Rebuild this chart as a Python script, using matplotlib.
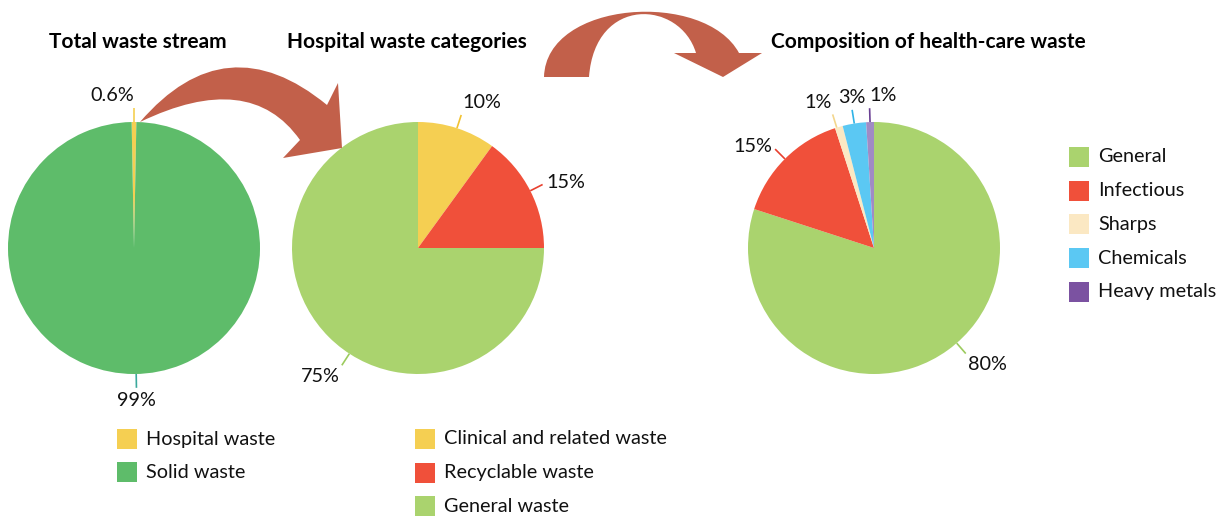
import numpy as np
import matplotlib.pyplot as plt
from matplotlib.path import Path
from matplotlib.patches import PathPatch, Rectangle

plt.rcParams['font.family'] = ['Lato', 'DejaVu Sans']

W, H = 1225, 518  # figure size in pixels, axes uses pixel coords (y up)

# ---- data ----
total_labels = ['Hospital waste', 'Solid waste']
total_values = [0.6, 99.4]
total_text = ['0.6%', '99%']
total_colors = ['#F5CF52', '#5EBC6A']

hosp_labels = ['Clinical and related waste', 'Recyclable waste', 'General waste']
hosp_values = [10, 15, 75]
hosp_text = ['10%', '15%', '75%']
hosp_colors = ['#F5CF52', '#F0503A', '#AAD36E']

comp_labels = ['General', 'Infectious', 'Sharps', 'Chemicals', 'Heavy metals']
comp_values = [80, 15, 1, 3, 1]
comp_text = ['80%', '15%', '1%', '3%', '1%']
comp_colors = ['#AAD36E', '#F0503A', '#FBE8C3', '#5BC8F3', '#A08BC4']
comp_legend_colors = ['#AAD36E', '#F0503A', '#FBE8C3', '#5BC8F3', '#7B52A1']

ARROW = '#C2604A'
R = 126
FS = 14.3      # labels / legend text
FS_T = 15      # titles

fig = plt.figure(figsize=(W / 100, H / 100), dpi=100)
ax = fig.add_axes([0, 0, 1, 1])


def y(py):
    return H - py


def mid_angles(values, start):
    tot = float(sum(values))
    cum = np.cumsum(values) - np.array(values) / 2.0
    return start - 360.0 * cum / tot


def draw_pie(cx, cy, values, colors, start, texts, lead_colors, nudge, align):
    ax.pie(values, colors=colors, startangle=start, counterclock=False,
           center=(cx, y(cy)), radius=R, wedgeprops=dict(linewidth=0))
    for t, a, dn, c, (ha, va) in zip(texts, mid_angles(values, start), nudge, lead_colors, align):
        rad = np.deg2rad(a + dn)
        ux, uy = np.cos(rad), np.sin(rad)
        ax.plot([cx + R * ux, cx + R * 1.11 * ux], [y(cy) + R * uy, y(cy) + R * 1.11 * uy],
                color=c, lw=1.2, solid_capstyle='butt')
        ax.text(cx + R * 1.14 * ux, y(cy) + R * 1.14 * uy, t, ha=ha, va=va,
                fontsize=FS, color='#111111')


# pie 1: total waste stream
draw_pie(134, 248, total_values, total_colors, 90 + 0.6 * 3.6 / 2, total_text,
         ['#F5CF52', '#3BA99C'], [0, 1], [('right', 'bottom'), ('center', 'top')])
# pie 2: hospital waste categories
draw_pie(418, 248, hosp_values, hosp_colors, 90, hosp_text,
         ['#F2C232', '#E8402F', '#9CCB5E'], [0, 0, 12],
         [('left', 'bottom'), ('left', 'center'), ('right', 'top')])
# pie 3: composition of health-care waste
draw_pie(874, 248, comp_values, comp_colors, 90, comp_text,
         ['#9CCB5E', '#E8402F', '#F3D68C', '#2FB3E6', '#6A3F93'], [5, 0, 1, 0, 0],
         [('left', 'top'), ('right', 'center'), ('right', 'bottom'),
          ('center', 'bottom'), ('left', 'bottom')])

# titles
ax.text(138, y(42), 'Total waste stream', ha='center', va='center', fontsize=FS_T, fontweight='bold')
ax.text(407, y(42), 'Hospital waste categories', ha='center', va='center', fontsize=FS_T, fontweight='bold')
ax.text(928, y(42), 'Composition of health-care waste', ha='center', va='center', fontsize=FS_T, fontweight='bold')

# curved arrows
P = Path
arrow1 = [(P.MOVETO, (140, 122)), (P.CURVE3, (226, 22)), (P.CURVE3, (327, 105)),
          (P.LINETO, (338, 83)), (P.LINETO, (342, 148)), (P.LINETO, (283, 158)),
          (P.LINETO, (300, 140)), (P.CURVE3, (250, 69)), (P.CURVE3, (140, 122)),
          (P.CLOSEPOLY, (140, 122))]
arrow2 = [(P.MOVETO, (544, 77)), (P.CURVE4, (546, 0)), (P.CURVE4, (705, -10)), (P.CURVE4, (739, 53)),
          (P.LINETO, (762, 53)), (P.LINETO, (723, 77)), (P.LINETO, (674, 53)), (P.LINETO, (696, 53)),
          (P.CURVE4, (680, 0)), (P.CURVE4, (595, -5)), (P.CURVE4, (589, 77)),
          (P.CLOSEPOLY, (544, 77))]
for arr in (arrow1, arrow2):
    codes = [c for c, _ in arr]
    verts = [(px, y(py)) for _, (px, py) in arr]
    ax.add_patch(PathPatch(Path(verts, codes), facecolor=ARROW, edgecolor='none', zorder=3))


# legends
def draw_legend(x0, y0, step, labels, colors):
    for i, (lab, col) in enumerate(zip(labels, colors)):
        cy = y0 + i * step
        ax.add_patch(Rectangle((x0, y(cy + 10)), 20, 20, facecolor=col, edgecolor='none'))
        ax.text(x0 + 29, y(cy), lab, ha='left', va='center', fontsize=FS, color='#111111')


draw_legend(117, 439, 33, total_labels, total_colors)
draw_legend(415, 439, 33.5, hosp_labels, hosp_colors)
draw_legend(1069, 157, 33.7, comp_labels, comp_legend_colors)

ax.set_xlim(0, W)
ax.set_ylim(0, H)
ax.set_aspect('equal')
ax.axis('off')

fig.savefig('out.png', dpi=100)
